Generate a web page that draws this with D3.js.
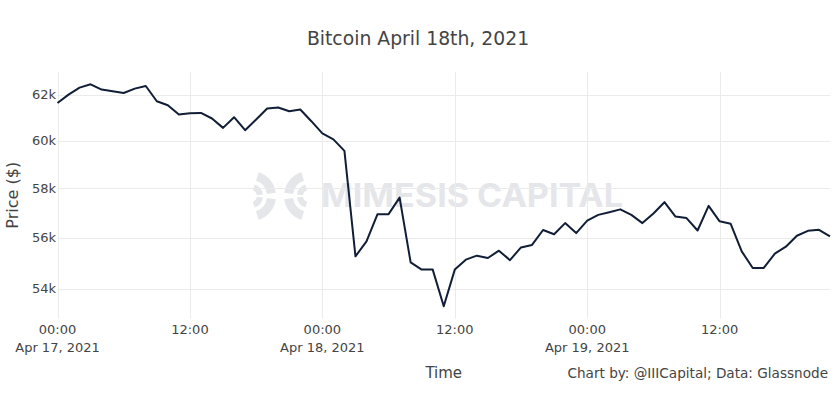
<!DOCTYPE html>
<html>
<head>
<meta charset="utf-8">
<script src="https://cdn.jsdelivr.net/npm/d3@7"></script>
<style>
  html, body { margin: 0; padding: 0; background: #fff; }
  svg { display: block; font-family: "DejaVu Sans", Verdana, sans-serif; }
</style>
</head>
<body>
<svg width="836" height="396"></svg>
<script>
// hourly BTC price, Apr 17 00:00 UTC .. Apr 19 22:00 UTC
var startTime = Date.UTC(2021, 3, 17, 0, 0);
var prices = [
  61630, 62000, 62308, 62454, 62220, 62145, 62070, 62264, 62379, 61706,
  61532, 61128, 61184, 61197, 60955, 60550, 61011, 60451, 60911, 61388,
  61431, 61271, 61345, 60838, 60310, 60055, 59567, 55262, 55852, 56946,
  56946, 57620, 55027, 54744, 54744, 53339, 54744, 55133, 55289, 55199,
  55486, 55114, 55615, 55714, 56309, 56138, 56585, 56185, 56685, 56918,
  57027, 57141, 56918, 56585, 56971, 57433, 56850, 56786, 56289, 57283,
  56657, 56557, 55458, 54809, 54809, 55367, 55643, 56078, 56276, 56316,
  56050
];
var yTicks = [54000, 56000, 58000, 60000, 62000];
var xTickHours = [0, 12, 24, 36, 48, 60];

var titleText = "Bitcoin April 18th, 2021";
var xTitle = "Time";
var yTitle = "Price ($)";
var creditText = "Chart by: @IIICapital; Data: Glassnode";

var data = prices.map(function (p, i) {
  return { t: new Date(startTime + i * 3600 * 1000), v: p };
});
function hourDate(h) {
  return new Date(startTime + h * 3600 * 1000);
}

var svg = d3.select("svg");
var plotL = 57.5, plotR = 830, plotT = 72, plotB = 318.5;

var x = d3.scaleUtc()
  .domain(d3.extent(data, d => d.t))
  .range([plotL, plotR]);

// log axis with 5% padding on each side (in log space)
var lo = Math.log10(d3.min(prices)), hi = Math.log10(d3.max(prices));
var pad = (hi - lo) / 0.9 * 0.05;
var y = d3.scaleLog()
  .domain([Math.pow(10, lo - pad), Math.pow(10, hi + pad)])
  .range([plotB, plotT]);

// watermark: two mirrored arc marks + name
var wm = svg.append("g").attr("fill", "#e5e6ea");
var arc = d3.arc();
var bands = [[6, 12], [16, 25]];
var spans = [[0.1, 0.46], [0.54, 0.9]];
bands.forEach(function (b) {
  spans.forEach(function (a) {
    wm.append("path")
      .attr("transform", "translate(251,196)")
      .attr("d", arc({ innerRadius: b[0], outerRadius: b[1], startAngle: a[0] * Math.PI, endAngle: a[1] * Math.PI }));
    wm.append("path")
      .attr("transform", "translate(309,196)")
      .attr("d", arc({ innerRadius: b[0], outerRadius: b[1], startAngle: -a[1] * Math.PI, endAngle: -a[0] * Math.PI }));
  });
});
wm.append("text")
  .attr("x", 321)
  .attr("y", 207)
  .attr("font-family", "Inter, 'Liberation Sans', sans-serif")
  .attr("font-weight", 700)
  .attr("font-size", 32.5)
  .attr("textLength", 302)
  .attr("lengthAdjust", "spacingAndGlyphs")
  .text("MIMESIS CAPITAL");

// gridlines
svg.append("g")
  .selectAll("line")
  .data(yTicks)
  .enter().append("line")
  .attr("x1", plotL).attr("x2", plotR)
  .attr("y1", d => Math.round(y(d)) + 0.5)
  .attr("y2", d => Math.round(y(d)) + 0.5)
  .attr("stroke", "#ebebeb")
  .attr("stroke-width", 1);

svg.append("g")
  .selectAll("line")
  .data(xTickHours)
  .enter().append("line")
  .attr("x1", d => Math.round(x(hourDate(d))) + 0.5)
  .attr("x2", d => Math.round(x(hourDate(d))) + 0.5)
  .attr("y1", plotT).attr("y2", plotB)
  .attr("stroke", "#ebebeb")
  .attr("stroke-width", 1);

// price line
var line = d3.line()
  .x(d => x(d.t))
  .y(d => y(d.v));

svg.append("path")
  .datum(data)
  .attr("fill", "none")
  .attr("stroke", "#111e36")
  .attr("stroke-width", 2)
  .attr("stroke-linejoin", "round")
  .attr("d", line);

// y tick labels
svg.append("g")
  .selectAll("text")
  .data(yTicks)
  .enter().append("text")
  .attr("x", 56)
  .attr("y", d => y(d) + 4.5)
  .attr("text-anchor", "end")
  .attr("font-size", 13)
  .attr("fill", "#444")
  .text(d => d3.format("d")(d / 1000) + "k");

// x tick labels
var fmtDate = d3.utcFormat("%b %-d, %Y");
var xt = svg.append("g")
  .selectAll("text")
  .data(xTickHours)
  .enter().append("text")
  .attr("x", d => x(hourDate(d)))
  .attr("y", 334)
  .attr("text-anchor", "middle")
  .attr("font-size", 13)
  .attr("fill", "#444");
xt.append("tspan")
  .text(d => d3.utcFormat("%H:%M")(hourDate(d)));
xt.filter(d => d % 24 === 0).append("tspan")
  .attr("x", d => x(hourDate(d)))
  .attr("dy", 17.5)
  .text(d => fmtDate(hourDate(d)));

// titles
svg.append("text")
  .attr("x", 418)
  .attr("y", 45)
  .attr("text-anchor", "middle")
  .attr("font-size", 18.8)
  .attr("fill", "#444")
  .text(titleText);

svg.append("text")
  .attr("x", (plotL + plotR) / 2)
  .attr("y", 378)
  .attr("text-anchor", "middle")
  .attr("font-size", 15)
  .attr("fill", "#444")
  .text(xTitle);

svg.append("text")
  .attr("transform", "translate(18," + ((plotT + plotB) / 2) + ") rotate(-90)")
  .attr("text-anchor", "middle")
  .attr("font-size", 16)
  .attr("fill", "#444")
  .text(yTitle);

svg.append("text")
  .attr("x", 828)
  .attr("y", 378)
  .attr("text-anchor", "end")
  .attr("font-size", 13.6)
  .attr("fill", "#444")
  .text(creditText);
</script>
</body>
</html>
